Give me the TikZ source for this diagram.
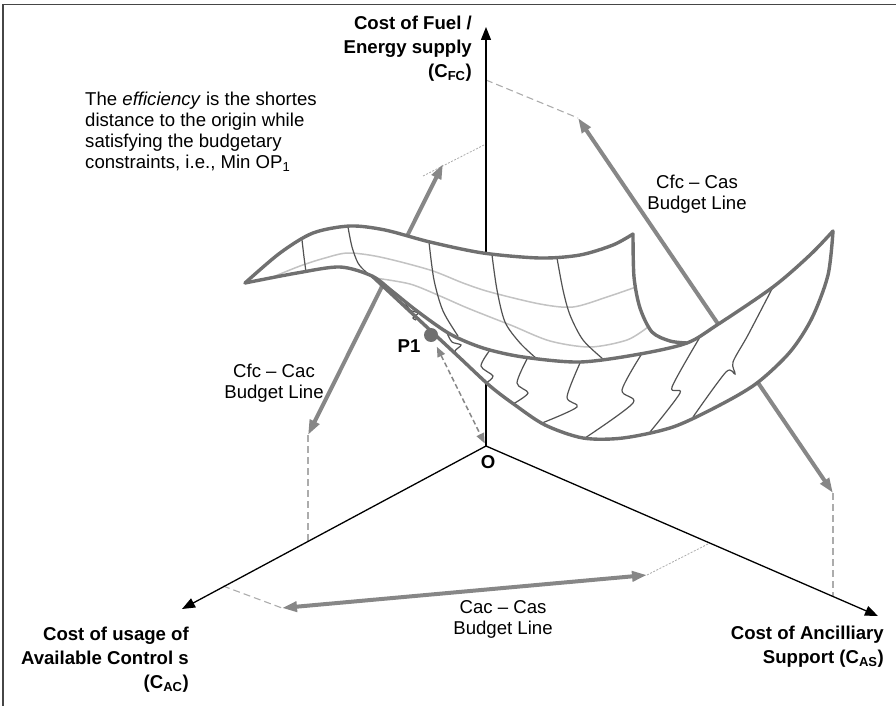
\documentclass[tikz,border=0pt]{standalone}
\usepackage{fontspec}
\setmainfont{Liberation Sans}
\usepackage{xcolor}
\usetikzlibrary{
    arrows.meta
}

\definecolor{rimgray}{RGB}{112,112,112}
\definecolor{ridgegray}{RGB}{82,82,82}
\definecolor{contourgray}{RGB}{195,195,195}
\definecolor{budgetgray}{RGB}{135,135,135}
\definecolor{projgray}{RGB}{172,172,172}
\definecolor{framegray}{RGB}{70,70,70}

\begin{document}
\begin{tikzpicture}[
    x=1pt, y=-1pt,
    font=\fontsize{18.6}{21}\selectfont,
    costaxis/.style={
        draw=black,
        line width=1.3pt,
        -{Triangle[length=13pt,width=10pt]}
    },
    budget/.style={
        draw=budgetgray,
        line width=4pt,
        {Triangle[length=15pt,width=10pt]}-{Triangle[length=15pt,width=10pt]}
    },
    proj/.style={
        draw=projgray,
        line width=1.1pt,
        dash pattern=on 7pt off 4pt
    },
    finedot/.style={
        draw=projgray,
        line width=0.8pt,
        dash pattern=on 2pt off 1.5pt
    },
    rim/.style={
        draw=rimgray,
        line width=3.4pt,
        line join=round,
        line cap=round
    },
    ridge/.style={
        draw=ridgegray,
        line width=1.2pt
    },
    contourline/.style={
        draw=contourgray,
        line width=1.5pt
    },
    p1arrow/.style={
        draw=budgetgray,
        line width=1.5pt,
        dash pattern=on 5pt off 3pt,
        {Triangle[length=10pt,width=8pt]}-{Triangle[length=10pt,width=8pt]}
    },
    axislabel/.style={
        font=\bfseries\fontsize{18.6}{24}\selectfont,
        align=right,
        inner sep=0pt
    },
    boldlabel/.style={
        font=\bfseries\fontsize{18.6}{21}\selectfont,
        inner sep=0pt
    },
    note/.style={
        align=center,
        inner sep=0pt
    }
]
\useasboundingbox (0,0) rectangle (896,706);

% =========================================================
% Frame
% =========================================================
\draw[draw=framegray, line width=1.5pt] (3,706) -- (3,4.5) -- (896,4.5);

% =========================================================
% Axes and budget line end points
% =========================================================
\coordinate (O) at (486,446);
\coordinate (fctip) at (486,27);
\coordinate (actip) at (182,609);
\coordinate (astip) at (878,616);

\coordinate (cacA) at (308,435);
\coordinate (cacB) at (443,164);
\coordinate (casA) at (578,118);
\coordinate (casB) at (833,493);
\coordinate (acasA) at (282,608);
\coordinate (acasB) at (647,575);

\coordinate (cacX) at (423,176);
\coordinate (fcpA) at (486,144);
\coordinate (fcpB) at (486,80);
\coordinate (acpA) at (308,541);
\coordinate (acpB) at (223,586);
\coordinate (aspA) at (710,543);
\coordinate (aspB) at (833,596);

% projections onto the axes
\draw[finedot] (cacX) -- (fcpA);
\draw[proj] (cacA) -- (acpA);
\draw[proj] (fcpB) -- (casA);
\draw[proj] (casB) -- (aspB);
\draw[proj] (acpB) -- (acasA);
\draw[finedot] (acasB) -- (aspA);

\draw[costaxis] (O) -- (fctip);
\draw[costaxis] (O) -- (actip);
\draw[costaxis] (O) -- (astip);

\draw[budget] (cacA) -- (cacB);
\draw[budget] (casA) -- (casB);
\draw[budget] (acasA) -- (acasB);

% =========================================================
% Cost surface
% =========================================================
\fill[white]
    plot[smooth] coordinates {(245,283) (280,253) (313,233) (350,226) (385,230) (430,242) (483,253) (540,258) (580,255) (613,245) (633,234)}
 -- plot[smooth] coordinates {(633,234) (634,277) (640,308) (652,332) (670,341) (687,343)}
 -- plot[smooth] coordinates {(687,343) (717,325) (773,287) (810,255) (833,231)}
 -- plot[smooth] coordinates {(833,231) (828,275) (812,318) (790,352) (757,383) (720,405) (673,427) (623,438) (583,438) (545,425) (515,405) (490,386) (460,358) (431,331) (401,303) (372,276)}
 -- plot[smooth] coordinates {(372,276) (340,267) (297,273) (245,283)}
 -- cycle;

\draw[contourline] plot[smooth] coordinates {(268,279) (300,266) (325,258) (348,253) (380,257) (430,270) (463,283) (490,292) (540,304) (573,307) (607,297) (636,287)};
\draw[contourline] plot[smooth] coordinates {(375,278) (410,284) (440,296) (465,307) (490,317) (513,326) (550,341) (590,347) (627,340) (648,327)};

\draw[ridge] plot[smooth] coordinates {(302,240) (304,257) (306,272)};
\draw[ridge] plot[smooth] coordinates {(348,227) (352,247) (358,263) (366,272) (374,278)};
\draw[ridge] plot[smooth] coordinates {(429,242) (434,280) (443,311) (458,336)};
\draw[ridge] plot[smooth] coordinates {(492,255) (497,290) (505,322) (520,343) (537,359)};
\draw[ridge] plot[smooth] coordinates {(557,258) (563,290) (570,315) (583,340) (603,359)};

\draw[ridge] plot[smooth] coordinates {(404,301) (410,310) (418,313) (413,318) (416,320)};
\draw[ridge] plot[smooth] coordinates {(447,333) (452,342) (461,345) (455,351) (459,357)};
\draw[ridge] plot[smooth] coordinates {(490,350) (481,366) (493,376) (486,383)};
\draw[ridge] plot[smooth] coordinates {(527,359) (517,383) (528,393) (513,404)};
\draw[ridge] plot[smooth] coordinates {(580,363) (567,397) (577,407) (542,423)};
\draw[ridge] plot[smooth] coordinates {(641,355) (622,390) (633,403) (585,438)};
\draw[ridge] plot[smooth] coordinates {(700,337) (672,387) (680,393) (650,432)};
\draw[ridge] plot[smooth] coordinates {(773,287) (748,335) (733,362) (735,374) (726,372) (693,417)};

\draw[rim] plot[smooth] coordinates {(245,283) (280,253) (313,233) (350,226) (385,230) (430,242) (483,253) (540,258) (580,255) (613,245) (633,234)};
\draw[rim] plot[smooth] coordinates {(633,234) (634,277) (640,308) (652,332) (670,341) (687,343)};
\draw[rim] plot[smooth] coordinates {(245,283) (297,273) (340,267) (372,276) (392,291) (417,311) (450,334) (483,348) (523,357) (580,362) (640,354) (687,343) (717,325) (773,287) (810,255) (833,231)};
\draw[rim] plot[smooth] coordinates {(833,231) (828,275) (812,318) (790,352) (757,383) (720,405) (673,427) (623,438) (583,438) (545,425) (515,405) (490,386) (460,358) (431,331) (401,303) (372,276)};

% =========================================================
% Point P1
% =========================================================
\node[circle, fill=rimgray, minimum size=14pt, inner sep=0pt] (p1dot) at (431,335) {};
\node[boldlabel] (p1label) at (409,346) {P1};
\draw[p1arrow, shorten <=6pt, shorten >=3pt] (p1dot) -- (O);

% =========================================================
% Labels
% =========================================================
\node[boldlabel] (olabel) at (488,462) {O};

\node[axislabel, anchor=east] (fclabel) at (472,49)
{Cost of Fuel /\\Energy supply\\(C\textsubscript{FC})};

\node[axislabel, anchor=east] (aclabel) at (189,660)
{Cost of usage of\\Available Control s\\(C\textsubscript{AC})};

\node[axislabel, anchor=east] (aslabel) at (884,647)
{Cost of Ancilliary\\Support (C\textsubscript{AS})};

\node[note, align=left, anchor=west] (efficiency) at (85,132)
{The \textit{efficiency} is the shortes\\distance to the origin while\\satisfying the budgetary\\constraints, i.e., Min OP\textsubscript{1}};

\node[note] (caslabel) at (697,194) {Cfc – Cas\\Budget Line};
\node[note] (caclabel) at (274,383) {Cfc – Cac\\Budget Line};
\node[note] (acaslabel) at (503,619) {Cac – Cas\\Budget Line};

\end{tikzpicture}
\end{document}
